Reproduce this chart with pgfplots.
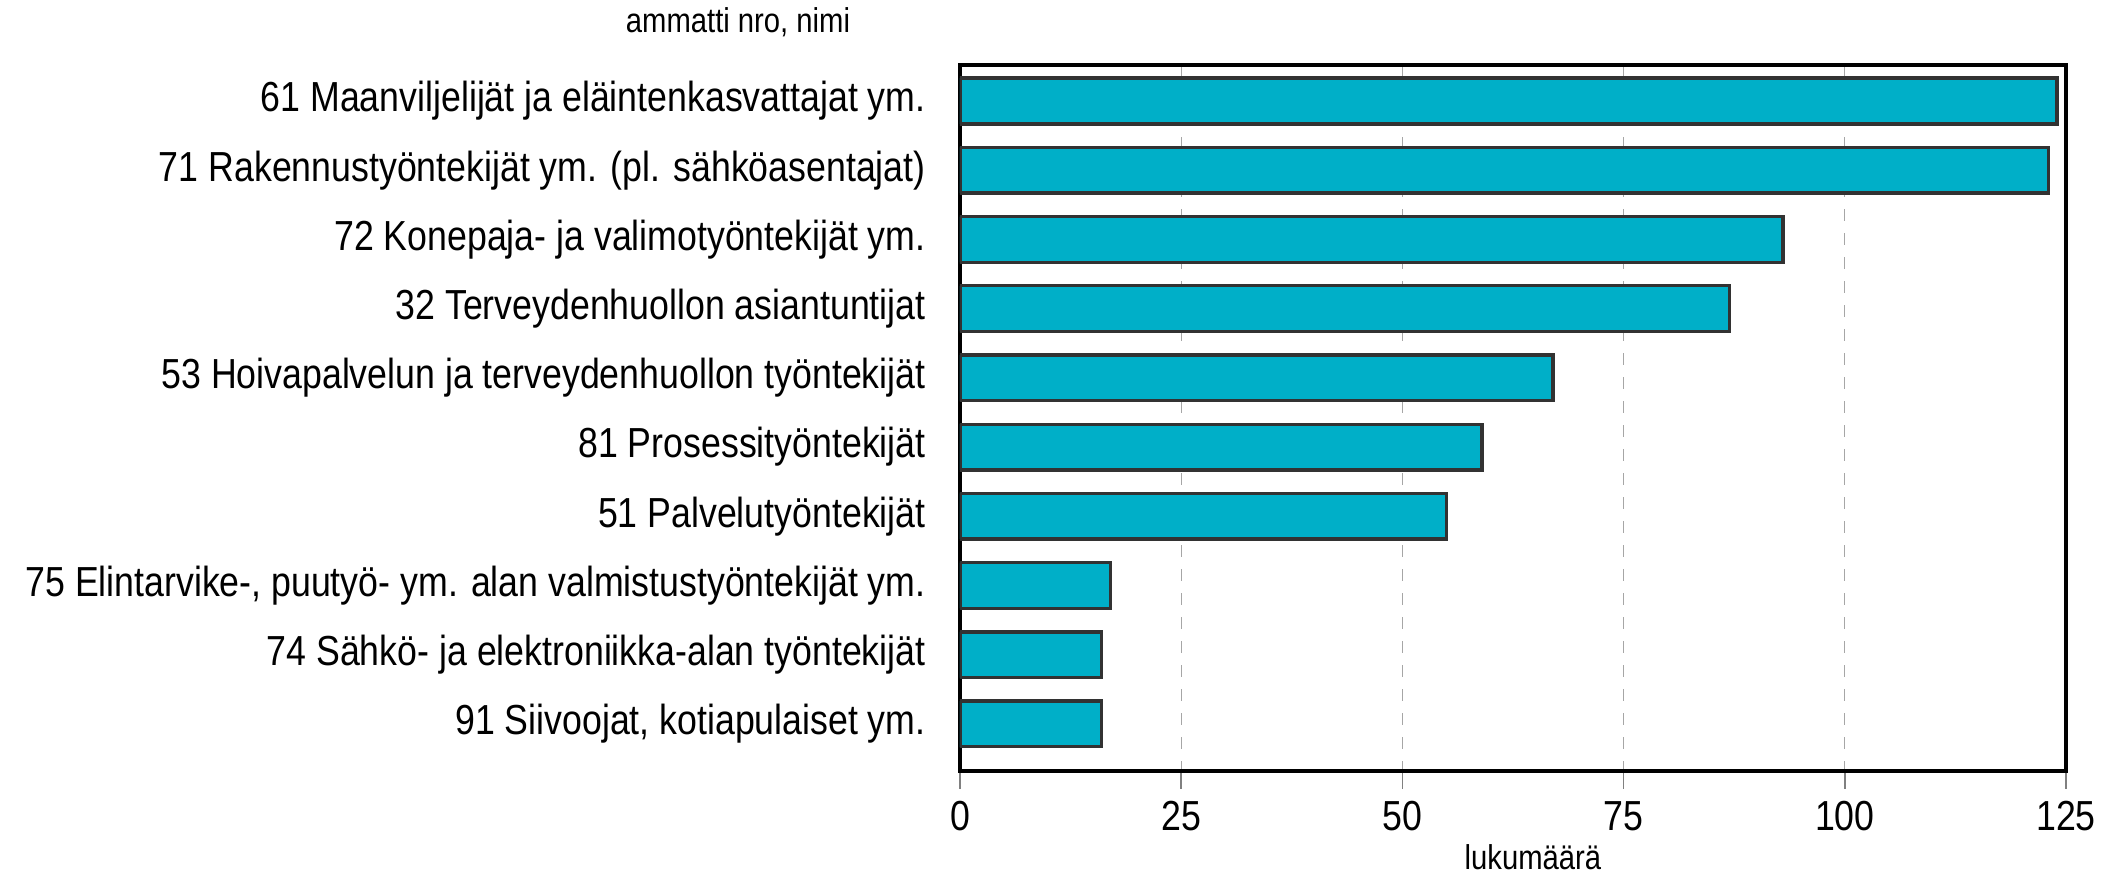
\documentclass[border=0pt]{standalone}
\usepackage{fontspec}
\setmainfont{Liberation Sans}[FakeStretch=0.85]
\usepackage{pgfplots}
\pgfplotsset{compat=1.18}
\definecolor{barfill}{RGB}{0,175,200}
\definecolor{baredge}{RGB}{50,50,50}
\begin{document}
\begin{tikzpicture}
\begin{axis}[
  at={(0pt,0pt)}, anchor=south west,
  scale only axis,
  width=276.5pt, height=176.5pt,
  xbar, bar width=0.66,
  y dir=reverse,
  ymin=-0.52, ymax=9.68,
  xmin=0, xmax=125,
  xtick={0,25,50,75,100,125},
  xtick pos=bottom,
  tick align=outside,
  major tick length=4.4pt,
  x tick style={gray, line width=0.4pt},
  ytick={0,1,2,3,4,5,6,7,8,9},
  y tick style={draw=none},
  yticklabels={
    61 Maanviljelijät ja eläintenkasvattajat ym.,
    71 Rakennustyöntekijät ym. (pl. sähköasentajat),
    72 Konepaja- ja valimotyöntekijät ym.,
    32 Terveydenhuollon asiantuntijat,
    53 Hoivapalvelun ja terveydenhuollon työntekijät,
    81 Prosessityöntekijät,
    51 Palvelutyöntekijät,
    75 Elintarvike-{,} puutyö- ym. alan valmistustyöntekijät ym.,
    74 Sähkö- ja elektroniikka-alan työntekijät,
    91 Siivoojat{,} kotiapulaiset ym.},
  yticklabel style={font=\fontsize{10.5}{12}\selectfont, anchor=east, inner sep=0pt, xshift=-4pt},
  xticklabel style={font=\fontsize{10.5}{12}\selectfont, anchor=center, yshift=-6.8pt},
  /pgf/number format/assume math mode=true,
  xmajorgrids,
  major grid style={gray!70, dashed, line width=0.3pt},
  axis line style={black, line width=0.8pt},
  xlabel={lukumäärä},
  xlabel style={font=\fontsize{8.6}{10}\selectfont, at={(axis description cs:0.518,-0.122)}, anchor=center},
  ylabel={ammatti nro, nimi},
  ylabel style={font=\fontsize{8.6}{10}\selectfont, rotate=-90, at={(axis description cs:-0.2007,1.06)}, anchor=center},
]
\addplot[fill=barfill, draw=baredge, line width=0.85pt] coordinates {
  (124,0) (123,1) (93,2) (87,3) (67,4) (59,5) (55,6) (17,7) (16,8) (16,9)
};
\end{axis}
\pgfresetboundingbox
\path[use as bounding box] (-240pt,-26pt) rectangle (288.5pt,192.75pt);
\end{tikzpicture}
\end{document}
